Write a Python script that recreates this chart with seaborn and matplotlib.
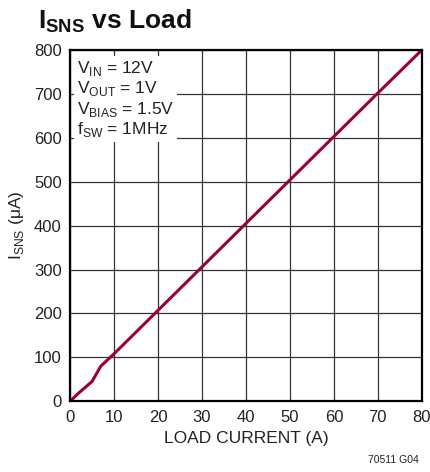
import matplotlib
matplotlib.use("Agg")
import matplotlib.pyplot as plt
import seaborn as sns
from matplotlib import font_manager

# data
load_current = [0, 2, 5, 7, 10, 20, 30, 40, 50, 60, 70, 80]
isns_ua = [0, 19, 45, 80, 108, 207, 306, 405, 504, 603, 702, 800]

x_ticks = [0, 10, 20, 30, 40, 50, 60, 70, 80]
y_ticks = [0, 100, 200, 300, 400, 500, 600, 700, 800]

names = {f.name for f in font_manager.fontManager.ttflist}
FONT = "Liberation Sans Narrow" if "Liberation Sans Narrow" in names else "Liberation Sans"

sns.set_style("white")
plt.rcParams["font.family"] = [FONT, "DejaVu Sans"]
plt.rcParams["mathtext.fontset"] = "custom"
plt.rcParams["mathtext.rm"] = FONT
plt.rcParams["mathtext.bf"] = FONT + ":bold"

fig = plt.figure(figsize=(4.3, 4.72), dpi=100)
ax = fig.add_axes([0.163, 0.150, 0.818, 0.744])

sns.lineplot(x=load_current, y=isns_ua, ax=ax, color="#9b0033", linewidth=2.2)

ax.set_xlim(0, 80)
ax.set_ylim(0, 800)
ax.set_xticks(x_ticks)
ax.set_yticks(y_ticks)
ax.tick_params(labelsize=12, length=0, pad=6, colors="#222222")
ax.grid(True, color="#333333", linewidth=0.9)
ax.set_axisbelow(True)
for s in ax.spines.values():
    s.set_color("black")
    s.set_linewidth(1.6)

ax.set_xlabel("LOAD CURRENT (A)", fontsize=12.5, color="#222222", labelpad=5)
ax.set_ylabel(r"I$_{\mathregular{SNS}}$ ($\mathregular{\mu}$A)", fontsize=12.5, color="#222222", labelpad=6)

ax.text(0.02, 0.975,
        "V$_{\\mathregular{IN}}$ = 12V\n"
        "V$_{\\mathregular{OUT}}$ = 1V\n"
        "V$_{\\mathregular{BIAS}}$ = 1.5V\n"
        "f$_{\\mathregular{SW}}$ = 1MHz",
        transform=ax.transAxes, ha="left", va="top", fontsize=12.5, color="#222222",
        linespacing=1.1,
        bbox=dict(facecolor="white", edgecolor="none", pad=2))

fig.text(0.088, 0.955, r"I$_{\mathbf{SNS}}$ vs Load", fontsize=19, fontweight="bold",
         ha="left", va="center", color="#111111")
fig.text(0.975, 0.015, "70511 G04", fontsize=7.5, ha="right", va="bottom", color="#222222")

fig.savefig("out.png", dpi=100)
